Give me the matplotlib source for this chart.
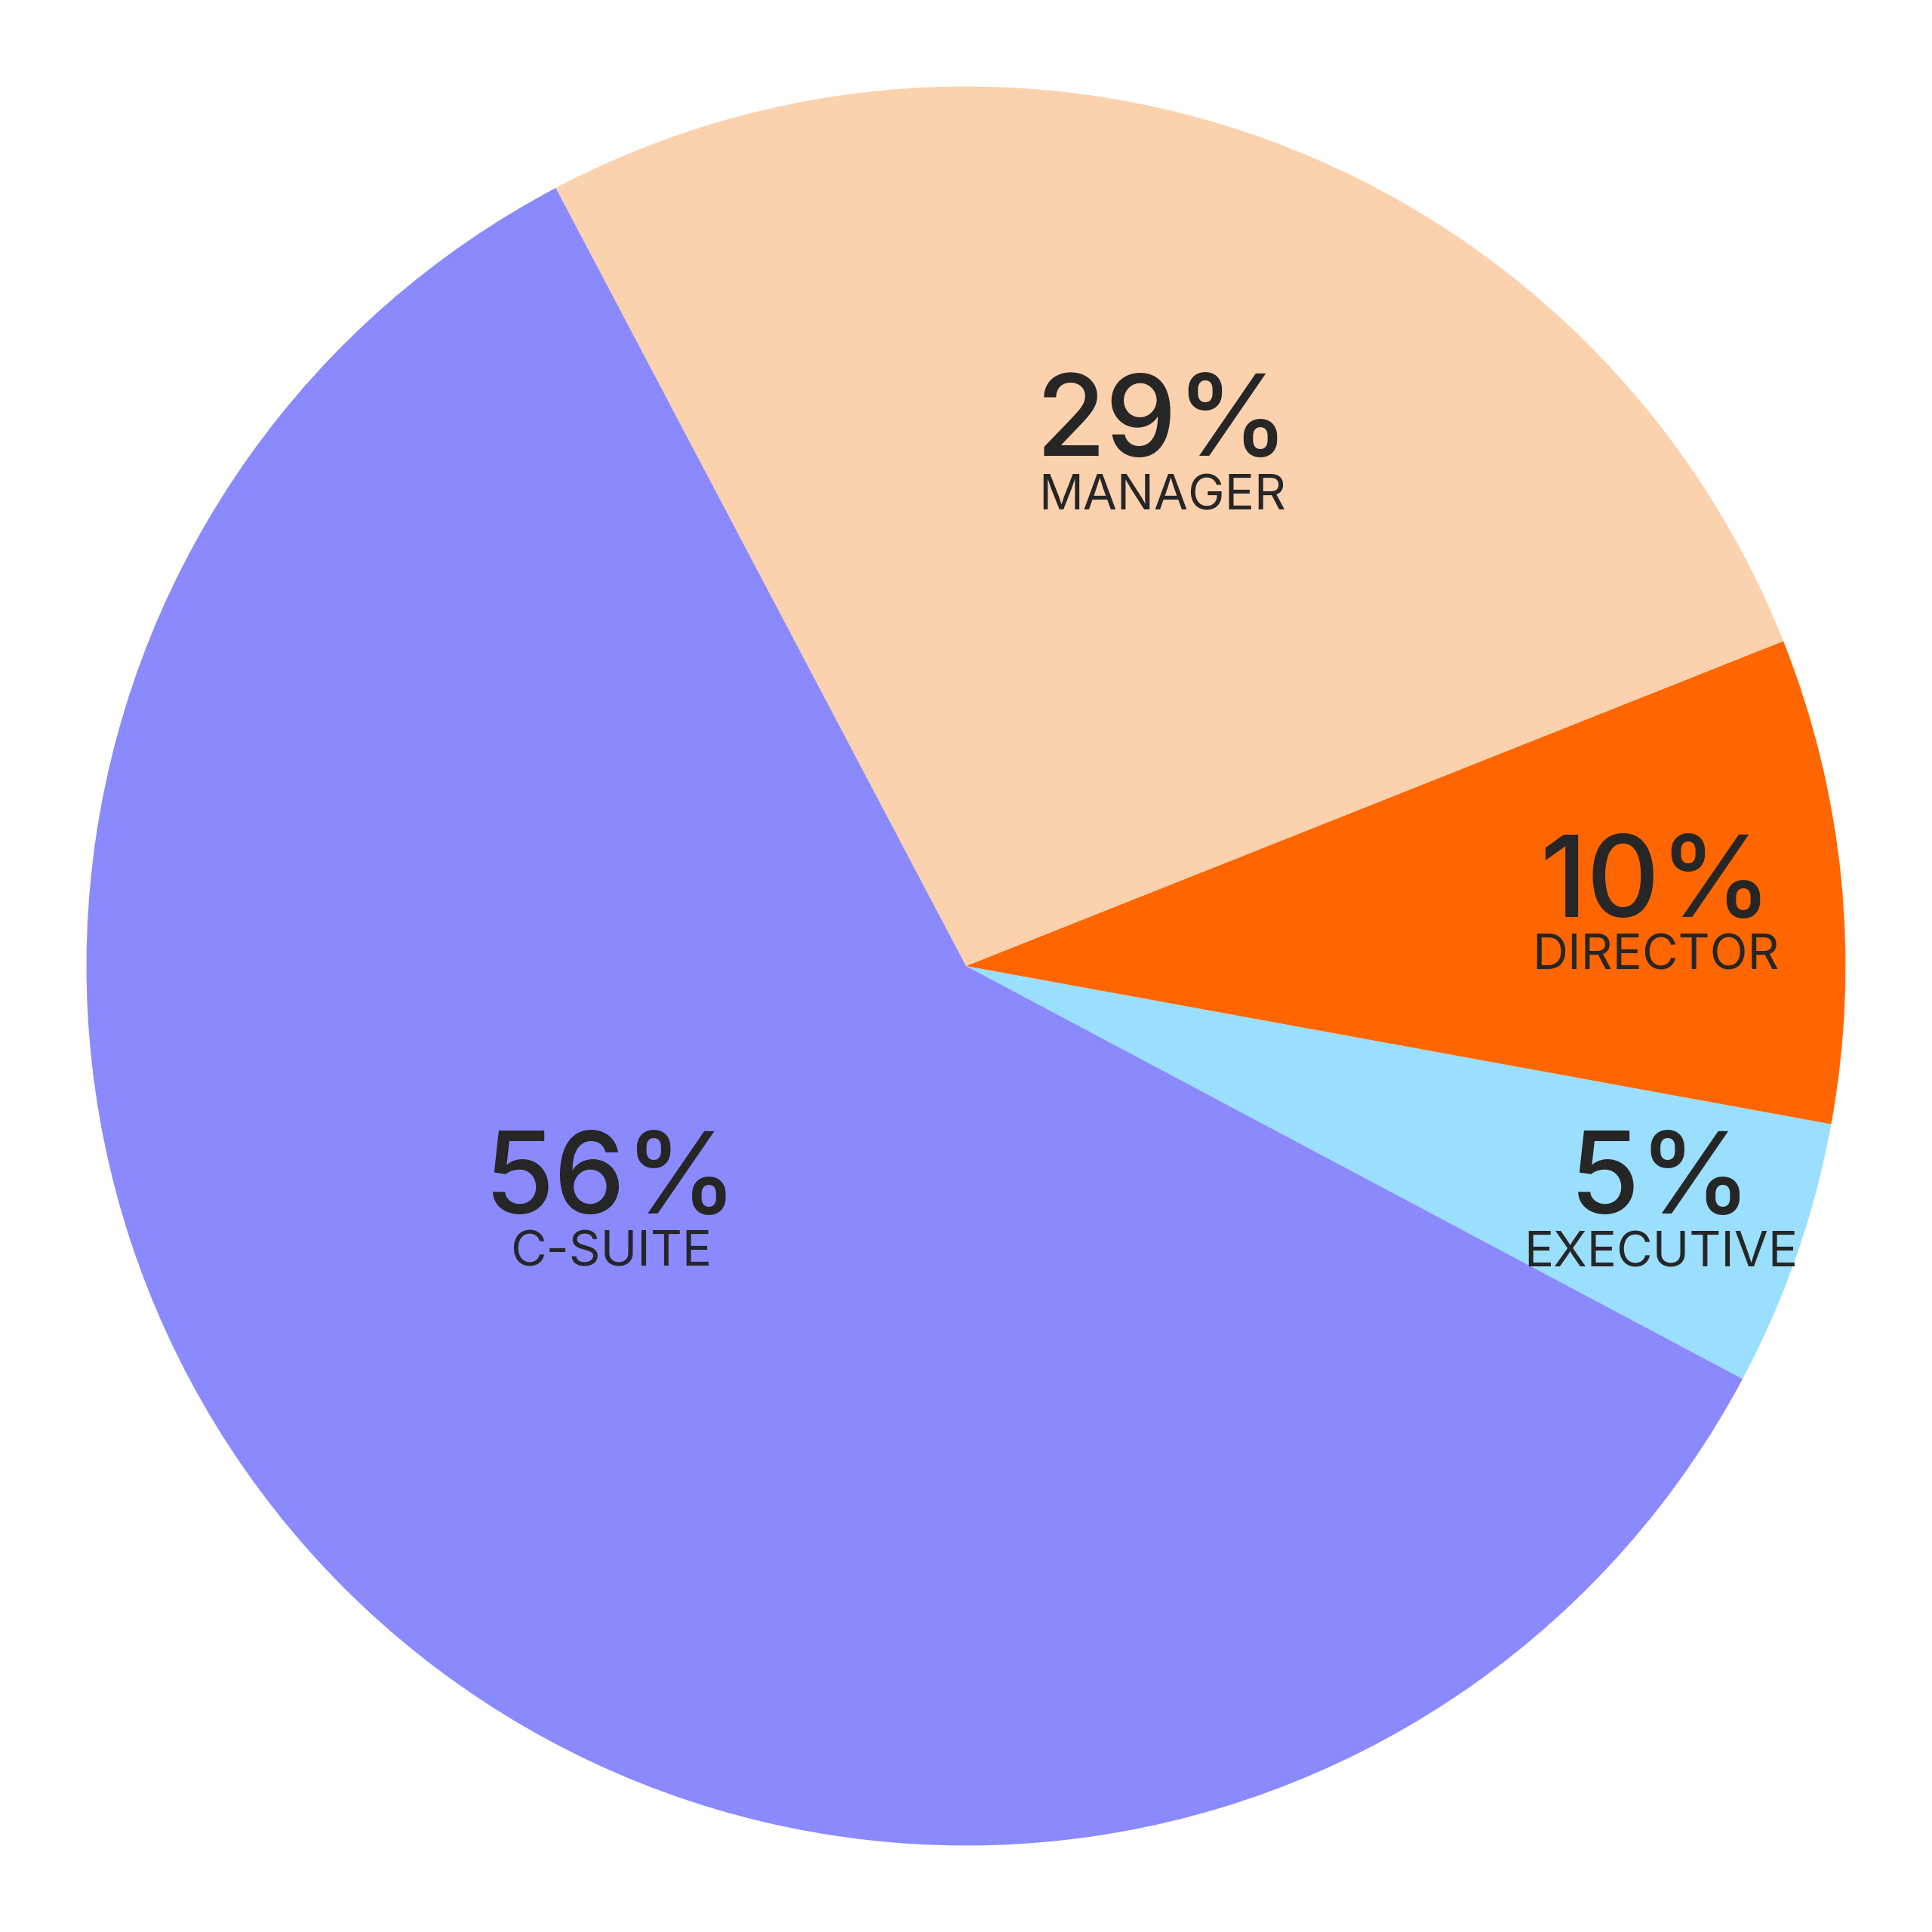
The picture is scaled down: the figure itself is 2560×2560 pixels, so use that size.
import matplotlib.pyplot as plt

# shares (counter-clockwise from the executive slice)
categories = ["EXECUTIVE", "DIRECTOR", "MANAGER", "C-SUITE"]
shares = [4.9, 8.9, 26.7, 59.5]
pct_labels = ["5%", "10%", "29%", "56%"]
colors = ["#9ADFFE", "#FF6600", "#FCD1AE", "#8A89FE"]

# label spots (pie radius = 1): x, baseline of percent, baseline of name
spots = [(0.788, -0.281, -0.341),
         (0.782, 0.056, -0.004),
         (0.223, 0.578, 0.517),
         (-0.402, -0.281, -0.340)]

fig = plt.figure(figsize=(12.8, 12.8), dpi=200)
ax = fig.add_axes([0, 0, 1, 1])
ax.pie(shares, colors=colors, startangle=-28, counterclock=True,
       radius=0.997, wedgeprops=dict(linewidth=0))
ax.set_xlim(-1.095, 1.095)
ax.set_ylim(-1.095, 1.095)
ax.set_aspect("equal")
ax.axis("off")

for (x, yp, yn), p, c in zip(spots, pct_labels, categories):
    ax.text(x, yp, p, ha="center", va="baseline", fontsize=54,
            fontweight="medium", family="Inter", color="#262626")
    ax.text(x, yn, c, ha="center", va="baseline", fontsize=23.5,
            family="Inter", color="#262626")

plt.savefig("out.png", dpi=200)
plt.close()
